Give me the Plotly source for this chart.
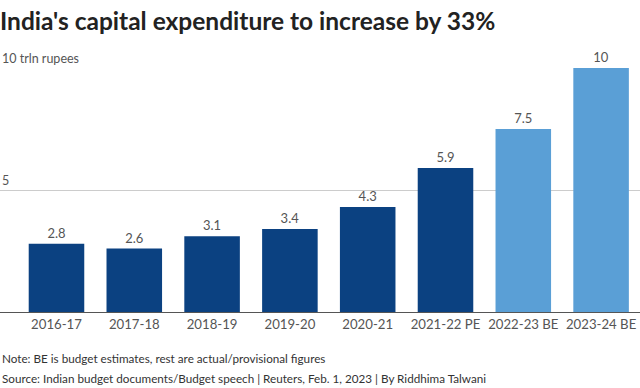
import plotly.graph_objects as go

categories = ["2016-17", "2017-18", "2018-19", "2019-20", "2020-21", "2021-22 PE", "2022-23 BE", "2023-24 BE"]
values = [2.8, 2.6, 3.1, 3.4, 4.3, 5.9, 7.5, 10]
value_labels = ["2.8", "2.6", "3.1", "3.4", "4.3", "5.9", "7.5", "10"]
colors = ["#0b4181"] * 6 + ["#5a9fd6"] * 2

FONT = "Lato"

fig = go.Figure(go.Bar(
    x=categories, y=values, text=value_labels, textposition="outside",
    marker=dict(color=colors, line=dict(width=0)),
    textfont=dict(family=FONT, size=13, color="#555555"),
    width=0.714, cliponaxis=False,
))

fig.update_layout(
    width=640, height=388,
    margin=dict(l=0, r=0, t=68, b=76),
    paper_bgcolor="white", plot_bgcolor="white",
    showlegend=False,
    xaxis=dict(range=[-0.726, 7.5], showgrid=False, showline=True, linecolor="#555555", linewidth=1,
               ticks="", tickfont=dict(family=FONT, size=13.2, color="#555555")),
    yaxis=dict(range=[0, 10], tickvals=[5, 10], showticklabels=False, showgrid=True,
               gridcolor="#cccccc", gridwidth=1, zeroline=False),
    title=dict(text="<b>India's capital expenditure to increase by 33%</b>", x=0, xanchor="left",
               y=0.945, yanchor="middle", font=dict(family=FONT, size=24.5, color="#222222")),
)

fig.add_annotation(text="10 trln rupees", xref="paper", yref="y", x=0, y=10, xanchor="left", yanchor="bottom",
                   showarrow=False, font=dict(family=FONT, size=12.5, color="#555555"), yshift=0)
fig.add_annotation(text="5", xref="paper", yref="y", x=0, y=5, xanchor="left", yanchor="bottom",
                   showarrow=False, font=dict(family=FONT, size=12.5, color="#555555"))
fig.add_annotation(text="Note: BE is budget estimates, rest are actual/provisional figures", xref="paper", yref="paper",
                   x=0, y=-0.19, xanchor="left", yanchor="middle", showarrow=False,
                   font=dict(family=FONT, size=11.7, color="#333333"))
fig.add_annotation(text="Source: Indian budget documents/Budget speech | Reuters, Feb. 1, 2023 | By Riddhima Talwani",
                   xref="paper", yref="paper", x=0, y=-0.272, xanchor="left", yanchor="middle", showarrow=False,
                   font=dict(family=FONT, size=11.7, color="#333333"))

fig.write_html("out.html", config={"displayModeBar": False},
               post_script="document.body.style.margin='0';")
